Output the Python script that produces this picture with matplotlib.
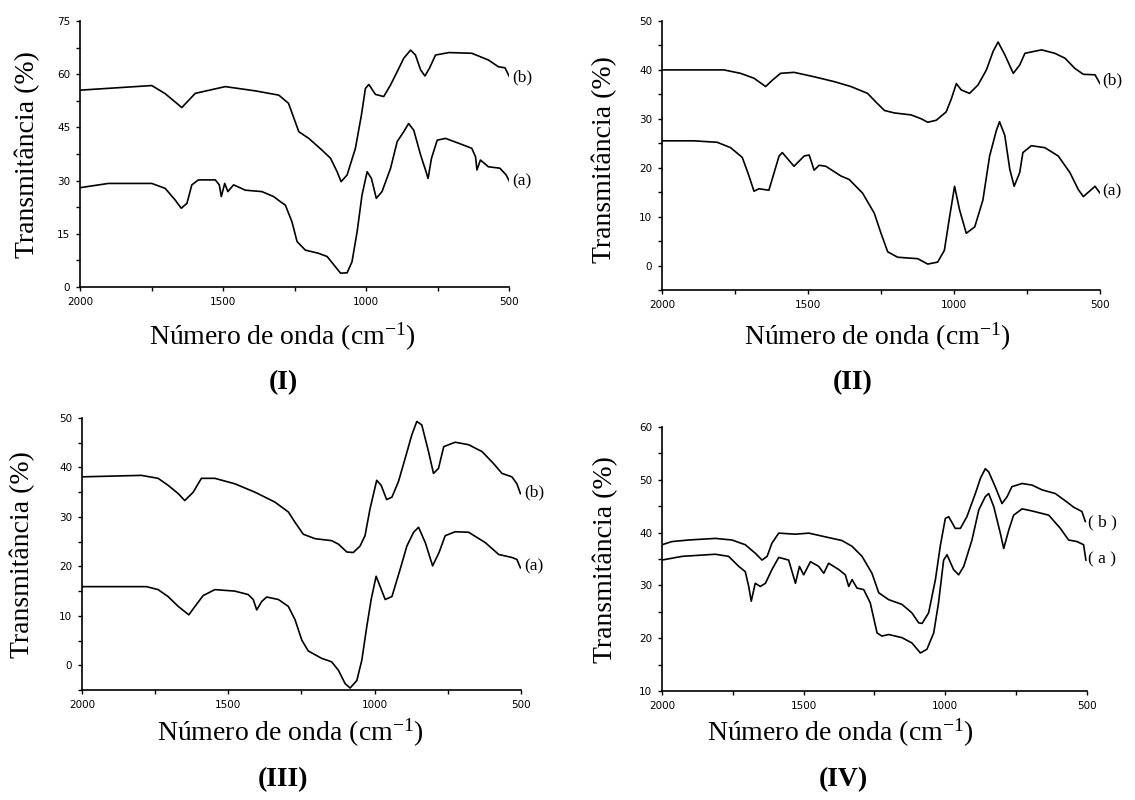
import matplotlib
matplotlib.use('Agg')
import matplotlib.pyplot as plt
from matplotlib.ticker import MultipleLocator

plt.rcParams['mathtext.fontset'] = 'custom'
plt.rcParams['mathtext.rm'] = 'Liberation Serif'
plt.rcParams['mathtext.it'] = 'Liberation Serif:italic'

# ---- data (wavenumber cm-1, transmittance %) ----
wn_I_b = [2000, 1749, 1702, 1644, 1597, 1492, 1387, 1305, 1271, 1235, 1200, 1154, 1124, 1101, 1087, 1066, 1037,
          1016, 1002, 990, 967, 938, 914, 891, 868, 844, 827, 809, 794, 778, 757, 710, 630, 572, 537, 514, 498]
T_I_b = [55.5, 56.8, 54.5, 50.6, 54.6, 56.5, 55.3, 54.1, 51.8, 43.8, 41.9, 38.6, 36.3, 32.5, 29.7, 31.6, 39.1,
         48.5, 56.0, 57.1, 54.3, 53.7, 57.0, 60.7, 64.5, 66.8, 65.4, 61.2, 59.5, 61.7, 65.4, 66.1, 65.9, 64.0, 62.1,
         61.8, 59.2]
wn_I_a = [2000, 1901, 1749, 1702, 1667, 1646, 1626, 1609, 1586, 1527, 1513, 1506, 1494, 1483, 1463, 1422, 1364,
          1323, 1300, 1282, 1259, 1241, 1212, 1166, 1136, 1107, 1089, 1066, 1049, 1031, 1014, 996, 981, 964, 944,
          914, 891, 868, 851, 833, 809, 792, 783, 771, 751, 722, 675, 630, 617, 612, 600, 572, 532, 510, 498]
T_I_a = [28.0, 29.2, 29.2, 27.8, 24.5, 22.2, 23.6, 28.8, 30.2, 30.2, 28.8, 25.5, 29.2, 26.9, 28.8, 27.3, 26.9,
         25.5, 24.1, 23.1, 18.4, 12.8, 10.4, 9.5, 8.6, 5.7, 3.9, 4.0, 7.1, 15.6, 25.9, 32.5, 30.6, 25.0, 26.9,
         33.5, 41.0, 43.8, 46.1, 44.2, 37.2, 33.0, 30.6, 36.3, 41.4, 41.9, 40.5, 39.1, 36.7, 33.0, 35.8, 33.9,
         33.5, 31.6, 29.7]

wn_II_b = [2000, 1788, 1731, 1685, 1645, 1622, 1594, 1548, 1479, 1410, 1353, 1296, 1267, 1238, 1204, 1147, 1112,
           1090, 1061, 1027, 1009, 992, 975, 947, 918, 889, 866, 849, 826, 797, 775, 757, 700, 655, 620, 586, 557,
           517, 500]
T_II_b = [40.0, 40.0, 39.3, 38.3, 36.6, 37.9, 39.3, 39.5, 38.6, 37.6, 36.6, 35.2, 33.4, 31.7, 31.2, 30.8, 30.0,
          29.3, 29.7, 31.4, 34.1, 37.2, 35.9, 35.2, 36.9, 40.0, 43.8, 45.7, 43.1, 39.3, 41.0, 43.4, 44.1, 43.4,
          42.4, 40.3, 39.1, 39.0, 37.2]
wn_II_a = [2000, 1891, 1811, 1765, 1725, 1702, 1685, 1668, 1634, 1616, 1599, 1588, 1548, 1513, 1496, 1479, 1462,
           1439, 1387, 1359, 1313, 1273, 1250, 1227, 1193, 1124, 1090, 1056, 1033, 1015, 998, 981, 958, 929, 901,
           878, 855, 844, 826, 809, 794, 775, 764, 735, 689, 643, 603, 574, 557, 517, 500]
T_II_a = [25.5, 25.5, 25.2, 24.1, 22.1, 18.3, 15.2, 15.7, 15.4, 19.0, 22.4, 23.1, 20.3, 22.4, 22.6, 19.5, 20.5,
          20.3, 18.3, 17.6, 14.8, 10.7, 6.6, 2.8, 1.7, 1.4, 0.3, 0.7, 3.1, 10.0, 16.2, 11.4, 6.6, 7.9, 13.4, 22.4,
          27.6, 29.4, 26.6, 19.7, 16.2, 19.0, 23.1, 24.5, 24.1, 22.4, 19.0, 15.5, 14.1, 16.2, 14.8]

wn_III_b = [2000, 1797, 1740, 1706, 1671, 1649, 1620, 1592, 1546, 1478, 1409, 1341, 1295, 1272, 1244, 1204, 1147,
            1124, 1095, 1073, 1050, 1033, 1016, 993, 978, 959, 941, 919, 896, 873, 856, 839, 816, 799, 782, 764,
            725, 679, 633, 594, 565, 531, 514, 502]
T_III_b = [38.1, 38.4, 37.8, 36.4, 34.7, 33.3, 35.0, 37.8, 37.8, 36.7, 35.0, 33.0, 31.0, 28.9, 26.5, 25.6, 25.2,
           24.5, 22.9, 22.8, 24.1, 26.2, 31.6, 37.4, 36.4, 33.5, 34.0, 37.1, 41.8, 46.6, 49.3, 48.6, 43.2, 38.8,
           39.8, 44.2, 45.1, 44.6, 43.2, 40.8, 38.8, 38.1, 36.7, 34.7]
wn_III_a = [2000, 1780, 1740, 1706, 1671, 1635, 1614, 1586, 1546, 1478, 1432, 1415, 1403, 1386, 1369, 1329, 1295,
            1272, 1249, 1227, 1181, 1147, 1124, 1101, 1084, 1061, 1044, 1027, 1012, 995, 964, 941, 913, 890, 867,
            850, 827, 802, 780, 759, 725, 679, 622, 576, 531, 514, 502]
T_III_a = [15.9, 15.9, 15.3, 13.9, 11.9, 10.2, 11.9, 14.1, 15.3, 15.0, 14.3, 13.3, 11.2, 12.9, 13.8, 13.3, 11.9,
           9.2, 5.1, 2.9, 1.4, 0.7, -1.0, -3.7, -4.6, -3.1, 1.0, 7.8, 13.3, 18.0, 13.3, 13.9, 19.4, 24.1, 26.9,
           27.9, 24.8, 20.1, 22.8, 26.2, 27.0, 26.9, 24.8, 22.4, 21.8, 21.4, 19.7]

wn_IV_b = [2000, 1965, 1906, 1812, 1753, 1706, 1671, 1647, 1629, 1612, 1588, 1529, 1482, 1424, 1365, 1329, 1294,
           1259, 1235, 1200, 1153, 1118, 1094, 1082, 1059, 1035, 1018, 1000, 988, 965, 947, 924, 894, 876, 859,
           847, 824, 800, 782, 765, 729, 694, 659, 612, 571, 547, 518, 506]
T_IV_b = [37.7, 38.3, 38.6, 38.9, 38.6, 37.7, 36.1, 34.8, 35.5, 38.0, 39.9, 39.7, 39.9, 39.2, 38.5, 37.4, 35.5,
          32.3, 28.6, 27.3, 26.4, 24.8, 22.9, 22.8, 24.8, 31.1, 37.4, 42.7, 43.0, 40.8, 40.8, 43.0, 47.4, 50.3,
          52.1, 51.5, 48.7, 45.5, 46.8, 48.7, 49.3, 49.0, 48.1, 47.4, 45.8, 44.8, 44.0, 42.1]
wn_IV_a = [2000, 1929, 1812, 1765, 1729, 1706, 1694, 1685, 1671, 1653, 1635, 1612, 1588, 1553, 1529, 1515, 1500,
           1476, 1447, 1429, 1412, 1376, 1353, 1341, 1329, 1312, 1288, 1265, 1241, 1224, 1200, 1153, 1118, 1088,
           1065, 1041, 1024, 1006, 994, 971, 953, 935, 906, 882, 859, 847, 829, 806, 794, 776, 759, 729, 694, 635,
           594, 565, 535, 512, 504]
T_IV_a = [34.8, 35.5, 35.9, 35.5, 33.6, 32.6, 29.8, 27.0, 30.4, 29.8, 30.4, 33.0, 35.3, 34.8, 30.4, 33.6, 32.0,
          34.5, 33.6, 32.3, 34.2, 33.0, 32.0, 29.8, 31.1, 29.5, 29.2, 26.7, 21.0, 20.4, 20.7, 20.1, 19.1, 17.2,
          17.9, 21.0, 26.7, 34.8, 35.8, 33.0, 32.0, 33.6, 38.6, 44.3, 46.8, 47.4, 44.9, 39.9, 37.0, 40.5, 43.3,
          44.5, 44.1, 43.3, 40.8, 38.6, 38.3, 37.7, 34.8]

panel_names = ['(I)', '(II)', '(III)', '(IV)']
y_limits = [(0, 75), (-5, 50), (-5, 50), (10, 60)]
y_major = [15, 10, 10, 10]

W, H = 1135, 800
fig = plt.figure(figsize=(W / 100, H / 100), dpi=100)


def box(l, t, r, b):
    # pixel box -> figure fraction rect
    return [l / W, 1 - b / H, (r - l) / W, (b - t) / H]


def fp(x, y):
    return x / W, 1 - y / H


serif = 'Liberation Serif'

panels = [
    dict(rect=box(80, 21, 509, 287), data=[(wn_I_a, T_I_a), (wn_I_b, T_I_b)],
         lab_a=(512, 181), lab_b=(512, 77), ylab=(27, 155), xlab=(282, 337), name=(283, 383), sp=False),
    dict(rect=box(662, 21, 1100, 290), data=[(wn_II_a, T_II_a), (wn_II_b, T_II_b)],
         lab_a=(1102, 191), lab_b=(1102, 80), ylab=(604, 160), xlab=(877, 337), name=(853, 383), sp=False),
    dict(rect=box(82, 418, 521, 690), data=[(wn_III_a, T_III_a), (wn_III_b, T_III_b)],
         lab_a=(524, 566), lab_b=(524, 492), ylab=(22, 555), xlab=(290, 733), name=(283, 780), sp=False),
    dict(rect=box(662, 427, 1087, 691), data=[(wn_IV_a, T_IV_a), (wn_IV_b, T_IV_b)],
         lab_a=(1088, 559), lab_b=(1088, 522), ylab=(605, 560), xlab=(840, 733), name=(843, 780), sp=True),
]

for p, name, ylim, ystep in zip(panels, panel_names, y_limits, y_major):
    ax = fig.add_axes(p['rect'])
    for wn, T in p['data']:
        ax.plot(wn, T, color='black', lw=1.2)
    ax.set_xlim(2000, 500)
    ax.set_ylim(*ylim)
    for s in ['top', 'right']:
        ax.spines[s].set_visible(False)
    for s in ['left', 'bottom']:
        ax.spines[s].set_linewidth(1.2)
    ax.xaxis.set_major_locator(MultipleLocator(500))
    ax.xaxis.set_minor_locator(MultipleLocator(250))
    ax.yaxis.set_major_locator(MultipleLocator(ystep))
    ax.yaxis.set_minor_locator(MultipleLocator(ystep / 2))
    ax.tick_params(which='both', direction='out', length=3, width=1, labelsize=7.5, pad=4)
    ax.patch.set_alpha(0)

    la = '( a )' if p['sp'] else '(a)'
    lb = '( b )' if p['sp'] else '(b)'
    fig.text(*fp(*p['lab_a']), la, family=serif, fontsize=12.5, va='center', ha='left')
    fig.text(*fp(*p['lab_b']), lb, family=serif, fontsize=12.5, va='center', ha='left')
    fig.text(*fp(*p['ylab']), 'Transmitância (%)', family=serif, fontsize=20, rotation=90,
             va='center', ha='center')
    fig.text(*fp(*p['xlab']), 'Número de onda (cm$^{-1}$)', family=serif, fontsize=20,
             va='center', ha='center')
    fig.text(*fp(*p['name']), name, family=serif, fontsize=20, fontweight='bold',
             va='center', ha='center')

fig.savefig('out.png', dpi=100)
